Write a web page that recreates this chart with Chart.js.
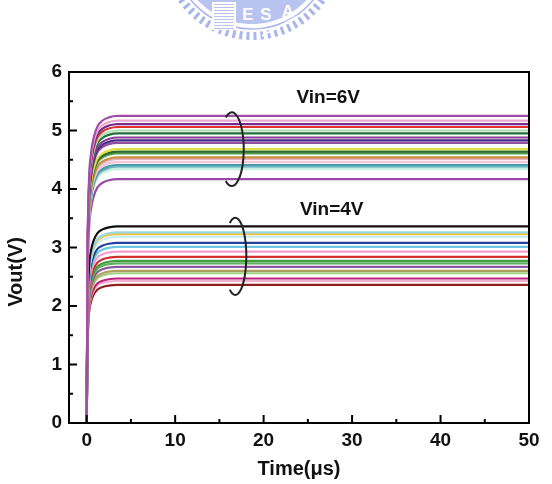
<!DOCTYPE html>
<html>
<head>
<meta charset="utf-8">
<script src="https://cdn.jsdelivr.net/npm/chart.js@4.4.1/dist/chart.umd.min.js"></script>
<style>
  html, body { margin: 0; padding: 0; background: #fff; }
</style>
</head>
<body>
<canvas id="myChart" width="552" height="484"></canvas>
<script>
// time axis (us) and the normalised rise shape
const times = [0, 0.1, 0.25, 0.5, 0.8, 1.2, 1.8, 2.5, 3.5, 50];
const rise  = [0, 0.55, 0.78, 0.88, 0.93, 0.965, 0.985, 0.995, 1, 1];

// final levels (V), Vin = 6V group, top to bottom
const levels6 = [5.25, 5.17, 5.11, 5.06, 5.00, 4.95, 4.88, 4.83, 4.79, 4.68, 4.64, 4.61, 4.54, 4.51, 4.46, 4.41, 4.38, 4.34, 4.17];
const colors6 = ['#a04ca8', '#e8a8d0', '#7a2a8a', '#e03030', '#b0e0b0', '#207040', '#8a3a9a', '#4a2a8a', '#9050a0',
                 '#e0e040', '#2a6a2a', '#50a050', '#c89040', '#e8b0c0', '#f0c8d8', '#4a9aa8', '#70b8c8', '#c8f0e0', '#9a48a8'];

// final levels (V), Vin = 4V group, top to bottom
const levels4 = [3.36, 3.26, 3.23, 3.18, 3.08, 3.01, 2.93, 2.84, 2.77, 2.73, 2.67, 2.60, 2.56, 2.47, 2.43, 2.36];
const colors4 = ['#111111', '#9ad8e8', '#f0c040', '#c8eef5', '#2040a0', '#6cc8e0', '#f0a0d0', '#d03030',
                 '#40a040', '#60b060', '#8a5aa0', '#b0a060', '#a0d080', '#c02080', '#f0b0d0', '#902020'];

const xMajor = [0, 10, 20, 30, 40, 50];
const xMinor = [5, 15, 25, 35, 45];
const yMajor = [0, 1, 2, 3, 4, 5, 6];
const yMinor = [0.5, 1.5, 2.5, 3.5, 4.5, 5.5];

const groupLabels = ['Vin=6V', 'Vin=4V'];
const labelAt = [{ x: 27.3, y: 5.56 }, { x: 27.7, y: 3.64 }];
const loops = [{ x: 16.4, y: 4.68, h: 0.63, rx: 12 }, { x: 16.8, y: 2.85, h: 0.66, rx: 11 }];

const makeSet = (level, color) => ({
  data: times.map((t, i) => ({ x: t, y: level * rise[i] })),
  borderColor: color,
  borderWidth: 2.2,
  pointRadius: 0,
  fill: false,
  cubicInterpolationMode: 'monotone'
});

const datasets = [
  ...levels6.map((v, i) => makeSet(v, colors6[i])),
  ...levels4.map((v, i) => makeSet(v, colors4[i]))
];

const FONT = '"Liberation Sans", Arial, sans-serif';

const watermark = {
  id: 'watermark',
  beforeDraw(chart) {
    const ctx = chart.ctx;
    const cx = 252, cy = -50;
    ctx.save();
    ctx.fillStyle = '#b8c3ef';
    ctx.beginPath();
    ctx.arc(cx, cy, 74, 0.1 * Math.PI, 0.9 * Math.PI);
    ctx.closePath();
    ctx.fill();
    ctx.strokeStyle = '#a8b6eb';
    ctx.lineWidth = 1.5;
    ctx.beginPath();
    ctx.arc(cx, cy, 79, 0.08 * Math.PI, 0.92 * Math.PI);
    ctx.stroke();
    ctx.setLineDash([3, 4]);
    ctx.lineWidth = 8;
    ctx.beginPath();
    ctx.arc(cx, cy, 86, 0.12 * Math.PI, 0.88 * Math.PI);
    ctx.stroke();
    ctx.setLineDash([]);
    // building stripes
    ctx.fillStyle = '#fff';
    ctx.fillRect(212, 2, 24, 28);
    ctx.fillStyle = '#b8c3ef';
    for (let yy = 4; yy < 30; yy += 3) ctx.fillRect(214, yy, 20, 1);
    ctx.fillStyle = '#fff';
    ctx.font = 'bold 17px ' + FONT;
    ctx.textAlign = 'center';
    ctx.textBaseline = 'middle';
    ctx.fillText('E', 248, 15);
    ctx.fillText('S', 266, 15);
    ctx.fillText('A', 288, 12);
    ctx.strokeStyle = '#fff';
    ctx.lineWidth = 2;
    ctx.beginPath();
    ctx.moveTo(262, 36); ctx.lineTo(298, 16);
    ctx.stroke();
    ctx.restore();
  }
};

const extras = {
  id: 'extras',
  afterDatasetsDraw(chart) {
    const { ctx, chartArea: a, scales: { x, y } } = chart;
    ctx.save();
    ctx.strokeStyle = '#000';
    ctx.lineWidth = 2;
    ctx.strokeRect(a.left, a.top, a.right - a.left, a.bottom - a.top);

    // inward ticks
    ctx.beginPath();
    xMajor.forEach(v => { const p = x.getPixelForValue(v); ctx.moveTo(p, a.bottom); ctx.lineTo(p, a.bottom - 8); });
    xMinor.forEach(v => { const p = x.getPixelForValue(v); ctx.moveTo(p, a.bottom); ctx.lineTo(p, a.bottom - 4); });
    yMajor.forEach(v => { const p = y.getPixelForValue(v); ctx.moveTo(a.left, p); ctx.lineTo(a.left + 8, p); });
    yMinor.forEach(v => { const p = y.getPixelForValue(v); ctx.moveTo(a.left, p); ctx.lineTo(a.left + 4, p); });
    ctx.stroke();

    // loops round each group
    ctx.strokeStyle = '#222';
    ctx.lineWidth = 2;
    loops.forEach(l => {
      const cx = x.getPixelForValue(l.x), cy = y.getPixelForValue(l.y);
      const ry = Math.abs(y.getPixelForValue(l.y + l.h) - cy);
      ctx.beginPath();
      ctx.ellipse(cx, cy, l.rx, ry, 0, -2.1, 2.1);
      ctx.stroke();
    });

    // group labels
    ctx.fillStyle = '#111';
    ctx.font = 'bold 19px ' + FONT;
    ctx.textAlign = 'center';
    ctx.textBaseline = 'middle';
    groupLabels.forEach((t, i) => ctx.fillText(t, x.getPixelForValue(labelAt[i].x), y.getPixelForValue(labelAt[i].y)));

    // y title
    ctx.font = 'bold 20px ' + FONT;
    ctx.translate(16, 272);
    ctx.rotate(-Math.PI / 2);
    ctx.fillText('Vout(V)', 0, 0);
    ctx.restore();
  }
};

const ctx = document.getElementById('myChart').getContext('2d');
const myChart = new Chart(ctx, {
  type: 'line',
  data: { datasets },
  options: {
    responsive: false,
    animation: false,
    layout: { padding: { left: 0, top: 72, right: 23, bottom: 0 } },
    plugins: { legend: { display: false }, tooltip: { enabled: false } },
    scales: {
      x: {
        type: 'linear',
        min: -2,
        max: 50,
        afterBuildTicks: s => { s.ticks = xMajor.map(v => ({ value: v })); },
        afterFit: s => { s.height = 61; },
        grid: { display: false, drawTicks: false },
        border: { display: false },
        ticks: { color: '#111', padding: 6, font: { family: FONT, size: 19, weight: 'bold' } },
        title: { display: true, text: 'Time(μs)', color: '#111', padding: { top: 0, bottom: 3 }, font: { family: FONT, size: 20, weight: 'bold' } }
      },
      y: {
        min: 0,
        max: 6,
        afterBuildTicks: s => { s.ticks = yMajor.map(v => ({ value: v })); },
        afterFit: s => { s.width = 69; },
        grid: { display: false, drawTicks: false },
        border: { display: false },
        ticks: { color: '#111', padding: 7, font: { family: FONT, size: 19, weight: 'bold' } }
      }
    }
  },
  plugins: [watermark, extras]
});
</script>
</body>
</html>
